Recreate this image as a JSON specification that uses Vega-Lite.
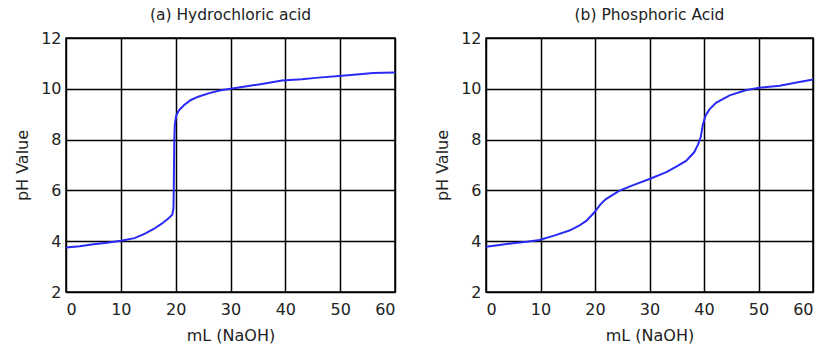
{
  "$schema": "https://vega.github.io/schema/vega-lite/v6.json",
  "background": "white",
  "padding": {"left": 13, "top": 6, "right": 5, "bottom": 0},
  "spacing": 33,
  "datasets": {
    "hcl": [
      {"mL": 0, "pH": 3.75}, {"mL": 2.5, "pH": 3.8}, {"mL": 5, "pH": 3.88}, {"mL": 7.5, "pH": 3.94},
      {"mL": 10, "pH": 4.02}, {"mL": 12.5, "pH": 4.12}, {"mL": 14.4, "pH": 4.3}, {"mL": 16, "pH": 4.48},
      {"mL": 17.4, "pH": 4.68}, {"mL": 18.6, "pH": 4.88}, {"mL": 19.4, "pH": 5.05}, {"mL": 19.6, "pH": 5.3},
      {"mL": 19.65, "pH": 6.0}, {"mL": 19.7, "pH": 7.0}, {"mL": 19.75, "pH": 8.0}, {"mL": 19.85, "pH": 8.6},
      {"mL": 20.1, "pH": 8.95}, {"mL": 20.6, "pH": 9.15}, {"mL": 21.5, "pH": 9.35}, {"mL": 22.7, "pH": 9.55},
      {"mL": 24.1, "pH": 9.69}, {"mL": 26, "pH": 9.82}, {"mL": 28, "pH": 9.93}, {"mL": 30, "pH": 10.0},
      {"mL": 33, "pH": 10.1}, {"mL": 36, "pH": 10.2}, {"mL": 39.4, "pH": 10.33}, {"mL": 43, "pH": 10.38},
      {"mL": 46, "pH": 10.44}, {"mL": 49.8, "pH": 10.5}, {"mL": 53, "pH": 10.56}, {"mL": 56, "pH": 10.62},
      {"mL": 60, "pH": 10.64}
    ],
    "h3po4": [
      {"mL": 0, "pH": 3.78}, {"mL": 2.5, "pH": 3.85}, {"mL": 4.9, "pH": 3.92}, {"mL": 7.5, "pH": 3.98},
      {"mL": 9.8, "pH": 4.05}, {"mL": 12.5, "pH": 4.22}, {"mL": 15.3, "pH": 4.42}, {"mL": 17, "pH": 4.6},
      {"mL": 18.4, "pH": 4.8}, {"mL": 19.9, "pH": 5.14}, {"mL": 21, "pH": 5.45}, {"mL": 22, "pH": 5.66},
      {"mL": 24.5, "pH": 5.99}, {"mL": 26.9, "pH": 6.2}, {"mL": 30, "pH": 6.45}, {"mL": 33.1, "pH": 6.72},
      {"mL": 35, "pH": 6.95}, {"mL": 36.7, "pH": 7.16}, {"mL": 38.2, "pH": 7.5}, {"mL": 38.9, "pH": 7.8},
      {"mL": 39.4, "pH": 8.1}, {"mL": 39.8, "pH": 8.6}, {"mL": 40.3, "pH": 8.95}, {"mL": 41.0, "pH": 9.19},
      {"mL": 42.2, "pH": 9.45}, {"mL": 44.7, "pH": 9.74}, {"mL": 47.8, "pH": 9.95}, {"mL": 50.2, "pH": 10.04},
      {"mL": 53.9, "pH": 10.12}, {"mL": 57, "pH": 10.25}, {"mL": 60, "pH": 10.37}
    ]
  },
  "config": {
    "font": "DejaVu Sans",
    "view": {"stroke": "black", "strokeWidth": 1.5},
    "axis": {
      "grid": true,
      "gridColor": "black",
      "gridOpacity": 1,
      "gridWidth": 1.5,
      "domain": false,
      "ticks": false,
      "labelFont": "DejaVu Sans",
      "labelFontSize": 16,
      "labelColor": "#222",
      "titleFont": "DejaVu Sans",
      "titleFontSize": 16,
      "titleFontWeight": "normal",
      "titleColor": "#222"
    },
    "axisX": {"labelPadding": 9, "titlePadding": 10},
    "axisY": {"labelPadding": 5, "titlePadding": 10},
    "title": {"font": "DejaVu Sans", "fontSize": 15.5, "fontWeight": "normal", "color": "#222", "offset": 7}
  },
  "hconcat": [
    {
      "title": "(a) Hydrochloric acid",
      "width": 329,
      "height": 254,
      "data": {"name": "hcl"},
      "mark": {"type": "line", "color": "#2a2af5", "strokeWidth": 2},
      "encoding": {
        "x": {"field": "mL", "type": "quantitative", "title": "mL (NaOH)", "scale": {"domain": [0, 60], "nice": false}, "axis": {"values": [0, 10, 20, 30, 40, 50, 60]}},
        "y": {"field": "pH", "type": "quantitative", "title": "pH Value", "scale": {"domain": [2, 12], "nice": false, "zero": false}, "axis": {"values": [2, 4, 6, 8, 10, 12]}}
      }
    },
    {
      "title": "(b) Phosphoric Acid",
      "width": 327,
      "height": 254,
      "data": {"name": "h3po4"},
      "mark": {"type": "line", "color": "#2a2af5", "strokeWidth": 2},
      "encoding": {
        "x": {"field": "mL", "type": "quantitative", "title": "mL (NaOH)", "scale": {"domain": [0, 60], "nice": false}, "axis": {"values": [0, 10, 20, 30, 40, 50, 60]}},
        "y": {"field": "pH", "type": "quantitative", "title": "pH Value", "scale": {"domain": [2, 12], "nice": false, "zero": false}, "axis": {"values": [2, 4, 6, 8, 10, 12]}}
      }
    }
  ]
}
